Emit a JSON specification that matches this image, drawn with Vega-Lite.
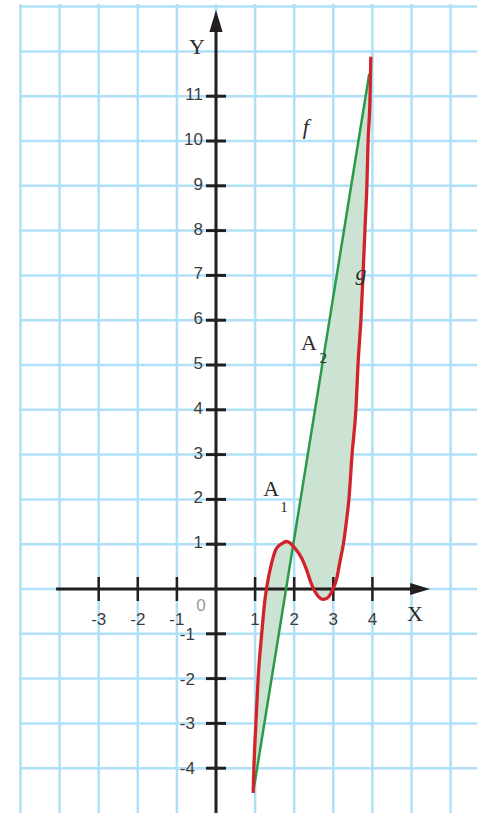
{
  "$schema": "https://vega.github.io/schema/vega-lite/v6.json",
  "width": 458,
  "height": 809,
  "autosize": {"type": "none"},
  "padding": {"left": 19, "top": 4, "right": 0, "bottom": 0},
  "background": "white",
  "config": {"view": {"stroke": null}},
  "datasets": {
    "gridx": [{"v": -5}, {"v": -4}, {"v": -3}, {"v": -2}, {"v": -1}, {"v": 0}, {"v": 1}, {"v": 2}, {"v": 3}, {"v": 4}, {"v": 5}, {"v": 6}],
    "gridy": [{"v": -4}, {"v": -3}, {"v": -2}, {"v": -1}, {"v": 0}, {"v": 1}, {"v": 2}, {"v": 3}, {"v": 4}, {"v": 5}, {"v": 6}, {"v": 7}, {"v": 8}, {"v": 9}, {"v": 10}, {"v": 11}, {"v": 12}, {"v": 13}],
    "region": [
      {"x": 0.95, "g": -4.55, "f": -4.55},
      {"x": 0.97, "g": -3.97, "f": -4.44},
      {"x": 1.02, "g": -3.0, "f": -4.17},
      {"x": 1.08, "g": -1.96, "f": -3.85},
      {"x": 1.17, "g": -0.99, "f": -3.36},
      {"x": 1.25, "g": -0.25, "f": -2.93},
      {"x": 1.30, "g": 0.05, "f": -2.66},
      {"x": 1.42, "g": 0.57, "f": -2.01},
      {"x": 1.55, "g": 0.91, "f": -1.31},
      {"x": 1.72, "g": 1.03, "f": -0.39},
      {"x": 1.80, "g": 1.06, "f": 0.04},
      {"x": 1.89, "g": 1.03, "f": 0.53},
      {"x": 2.02, "g": 0.91, "f": 1.23},
      {"x": 2.19, "g": 0.69, "f": 2.15},
      {"x": 2.32, "g": 0.42, "f": 2.85},
      {"x": 2.45, "g": 0.09, "f": 3.56},
      {"x": 2.62, "g": -0.17, "f": 4.47},
      {"x": 2.72, "g": -0.23, "f": 5.02},
      {"x": 2.83, "g": -0.21, "f": 5.61},
      {"x": 2.96, "g": -0.06, "f": 6.31},
      {"x": 3.09, "g": 0.24, "f": 7.01},
      {"x": 3.17, "g": 0.61, "f": 7.45},
      {"x": 3.26, "g": 1.02, "f": 7.93},
      {"x": 3.34, "g": 1.54, "f": 8.37},
      {"x": 3.40, "g": 2.01, "f": 8.69},
      {"x": 3.48, "g": 3.01, "f": 9.12},
      {"x": 3.58, "g": 4.04, "f": 9.66},
      {"x": 3.63, "g": 4.98, "f": 9.93},
      {"x": 3.71, "g": 6.07, "f": 10.37},
      {"x": 3.76, "g": 7.01, "f": 10.63},
      {"x": 3.81, "g": 8.04, "f": 10.91},
      {"x": 3.86, "g": 9.04, "f": 11.18},
      {"x": 3.89, "g": 10.0, "f": 11.34},
      {"x": 3.92, "g": 10.59, "f": 11.50}
    ],
    "red": [
      {"x": 0.95, "y": -4.55}, {"x": 0.97, "y": -3.97}, {"x": 1.02, "y": -3.0}, {"x": 1.08, "y": -1.96},
      {"x": 1.17, "y": -0.99}, {"x": 1.25, "y": -0.25}, {"x": 1.30, "y": 0.05}, {"x": 1.42, "y": 0.57},
      {"x": 1.55, "y": 0.91}, {"x": 1.72, "y": 1.03}, {"x": 1.80, "y": 1.06}, {"x": 1.89, "y": 1.03},
      {"x": 2.02, "y": 0.91}, {"x": 2.19, "y": 0.69}, {"x": 2.32, "y": 0.42}, {"x": 2.45, "y": 0.09},
      {"x": 2.62, "y": -0.17}, {"x": 2.72, "y": -0.23}, {"x": 2.83, "y": -0.21}, {"x": 2.96, "y": -0.06},
      {"x": 3.09, "y": 0.24}, {"x": 3.17, "y": 0.61}, {"x": 3.26, "y": 1.02}, {"x": 3.34, "y": 1.54},
      {"x": 3.40, "y": 2.01}, {"x": 3.48, "y": 3.01}, {"x": 3.58, "y": 4.04}, {"x": 3.63, "y": 4.98},
      {"x": 3.71, "y": 6.07}, {"x": 3.76, "y": 7.01}, {"x": 3.81, "y": 8.04}, {"x": 3.86, "y": 9.04},
      {"x": 3.89, "y": 10.0}, {"x": 3.94, "y": 10.98}, {"x": 3.96, "y": 11.88}
    ],
    "green": [{"x": 0.95, "y": -4.55}, {"x": 3.92, "y": 11.5}],
    "xaxis": [{"x": -4.09, "x2": 5.05, "y": 0}],
    "yaxis": [{"x": 0, "y": -5.1, "y2": 12.5}],
    "arrowx": [{"x": 5.22, "y": 0}],
    "arrowy": [{"x": 0, "y": 12.68}],
    "xticks": [{"v": -3, "t": "-3"}, {"v": -2, "t": "-2"}, {"v": -1, "t": "-1"}, {"v": 1, "t": "1"}, {"v": 2, "t": "2"}, {"v": 3, "t": "3"}, {"v": 4, "t": "4"}],
    "yticks": [{"v": -4, "t": "-4"}, {"v": -3, "t": "-3"}, {"v": -2, "t": "-2"}, {"v": -1, "t": "-1"}, {"v": 1, "t": "1"}, {"v": 2, "t": "2"}, {"v": 3, "t": "3"}, {"v": 4, "t": "4"}, {"v": 5, "t": "5"}, {"v": 6, "t": "6"}, {"v": 7, "t": "7"}, {"v": 8, "t": "8"}, {"v": 9, "t": "9"}, {"v": 10, "t": "10"}, {"v": 11, "t": "11"}],
    "letters": [{"x": 5.09, "y": -0.55, "t": "X"}, {"x": -0.49, "y": 12.1, "t": "Y"}, {"x": 1.41, "y": 2.23, "t": "A"}, {"x": 2.38, "y": 5.5, "t": "A"}],
    "subs": [{"x": 1.74, "y": 1.83, "t": "1"}, {"x": 2.74, "y": 5.16, "t": "2"}],
    "italics": [{"x": 2.3, "y": 10.31, "t": "f"}, {"x": 3.71, "y": 7.05, "t": "g"}],
    "origin": [{"x": 0, "y": 0, "t": "0"}]
  },
  "layer": [
    {
      "data": {"name": "gridx"},
      "mark": {"type": "rule", "color": "#afe0f7", "strokeWidth": 2.5},
      "encoding": {"x": {"field": "v", "type": "quantitative", "scale": {"domain": [-5.038, 6.675], "nice": false, "zero": false}, "axis": null}}
    },
    {
      "data": {"name": "gridy"},
      "mark": {"type": "rule", "color": "#afe0f7", "strokeWidth": 2.5},
      "encoding": {"y": {"field": "v", "type": "quantitative", "scale": {"domain": [-5.0, 13.058], "nice": false, "zero": false}, "axis": null}}
    },
    {
      "data": {"name": "region"},
      "mark": {"type": "area", "color": "#cce3d4", "opacity": 1, "interpolate": "monotone"},
      "encoding": {
        "x": {"field": "x", "type": "quantitative", "axis": null},
        "y": {"field": "g", "type": "quantitative", "axis": null},
        "y2": {"field": "f"}
      }
    },
    {
      "data": {"name": "xaxis"},
      "mark": {"type": "rule", "color": "#231f20", "strokeWidth": 3},
      "encoding": {
        "x": {"field": "x", "type": "quantitative", "axis": null},
        "x2": {"field": "x2"},
        "y": {"field": "y", "type": "quantitative", "axis": null}
      }
    },
    {
      "data": {"name": "yaxis"},
      "mark": {"type": "rule", "color": "#231f20", "strokeWidth": 3},
      "encoding": {
        "x": {"field": "x", "type": "quantitative", "axis": null},
        "y": {"field": "y", "type": "quantitative", "axis": null},
        "y2": {"field": "y2"}
      }
    },
    {
      "data": {"name": "arrowx"},
      "mark": {"type": "point", "shape": "M1,0L-1,-0.6L-1,0.6Z", "size": 400, "filled": true, "color": "#231f20", "opacity": 1},
      "encoding": {
        "x": {"field": "x", "type": "quantitative", "axis": null},
        "y": {"field": "y", "type": "quantitative", "axis": null}
      }
    },
    {
      "data": {"name": "arrowy"},
      "mark": {"type": "point", "shape": "M0,-1L0.6,1L-0.6,1Z", "size": 484, "filled": true, "color": "#231f20", "opacity": 1},
      "encoding": {
        "x": {"field": "x", "type": "quantitative", "axis": null},
        "y": {"field": "y", "type": "quantitative", "axis": null}
      }
    },
    {
      "data": {"name": "xticks"},
      "mark": {"type": "tick", "orient": "vertical", "size": 24, "thickness": 2.5, "color": "#231f20", "opacity": 1},
      "encoding": {
        "x": {"field": "v", "type": "quantitative", "axis": null},
        "y": {"datum": 0, "type": "quantitative", "axis": null}
      }
    },
    {
      "data": {"name": "yticks"},
      "mark": {"type": "tick", "orient": "horizontal", "size": 20, "thickness": 3, "color": "#231f20", "opacity": 1},
      "encoding": {
        "x": {"datum": 0, "type": "quantitative", "axis": null},
        "y": {"field": "v", "type": "quantitative", "axis": null}
      }
    },
    {
      "data": {"name": "green"},
      "mark": {"type": "line", "color": "#2a9a48", "strokeWidth": 2.5},
      "encoding": {
        "x": {"field": "x", "type": "quantitative", "axis": null},
        "y": {"field": "y", "type": "quantitative", "axis": null}
      }
    },
    {
      "data": {"name": "red"},
      "mark": {"type": "line", "color": "#d2232a", "strokeWidth": 3.3, "interpolate": "monotone"},
      "encoding": {
        "x": {"field": "x", "type": "quantitative", "axis": null},
        "y": {"field": "y", "type": "quantitative", "axis": null}
      }
    },
    {
      "data": {"name": "xticks"},
      "mark": {"type": "text", "font": "Liberation Sans", "fontSize": 17, "color": "#3c3c3c", "align": "center", "baseline": "middle", "dy": 31},
      "encoding": {
        "x": {"field": "v", "type": "quantitative", "axis": null},
        "y": {"datum": 0, "type": "quantitative", "axis": null},
        "text": {"field": "t"}
      }
    },
    {
      "data": {"name": "yticks"},
      "transform": [{"filter": "datum.v > 0"}],
      "mark": {"type": "text", "font": "Liberation Sans", "fontSize": 17, "color": "#3c3c3c", "align": "right", "baseline": "middle", "dx": -13, "dy": -1},
      "encoding": {
        "x": {"datum": 0, "type": "quantitative", "axis": null},
        "y": {"field": "v", "type": "quantitative", "axis": null},
        "text": {"field": "t"}
      }
    },
    {
      "data": {"name": "yticks"},
      "transform": [{"filter": "datum.v < 0"}],
      "mark": {"type": "text", "font": "Liberation Sans", "fontSize": 17, "color": "#3c3c3c", "align": "right", "baseline": "middle", "dx": -21, "dy": 1},
      "encoding": {
        "x": {"datum": 0, "type": "quantitative", "axis": null},
        "y": {"field": "v", "type": "quantitative", "axis": null},
        "text": {"field": "t"}
      }
    },
    {
      "data": {"name": "origin"},
      "mark": {"type": "text", "font": "Liberation Sans", "fontSize": 17, "color": "#9a9a9a", "align": "center", "baseline": "middle", "dx": -15, "dy": 17},
      "encoding": {
        "x": {"field": "x", "type": "quantitative", "axis": null},
        "y": {"field": "y", "type": "quantitative", "axis": null},
        "text": {"field": "t"}
      }
    },
    {
      "data": {"name": "letters"},
      "mark": {"type": "text", "font": "Liberation Serif", "fontSize": 22, "color": "#2a2a2a", "align": "center", "baseline": "middle"},
      "encoding": {
        "x": {"field": "x", "type": "quantitative", "axis": null},
        "y": {"field": "y", "type": "quantitative", "axis": null},
        "text": {"field": "t"}
      }
    },
    {
      "data": {"name": "subs"},
      "mark": {"type": "text", "font": "Liberation Serif", "fontSize": 15, "color": "#2a2a2a", "align": "center", "baseline": "middle"},
      "encoding": {
        "x": {"field": "x", "type": "quantitative", "axis": null},
        "y": {"field": "y", "type": "quantitative", "axis": null},
        "text": {"field": "t"}
      }
    },
    {
      "data": {"name": "italics"},
      "mark": {"type": "text", "font": "Liberation Serif", "fontSize": 22, "fontStyle": "italic", "color": "#2a2a2a", "align": "center", "baseline": "middle"},
      "encoding": {
        "x": {"field": "x", "type": "quantitative", "axis": null},
        "y": {"field": "y", "type": "quantitative", "axis": null},
        "text": {"field": "t"}
      }
    }
  ]
}
